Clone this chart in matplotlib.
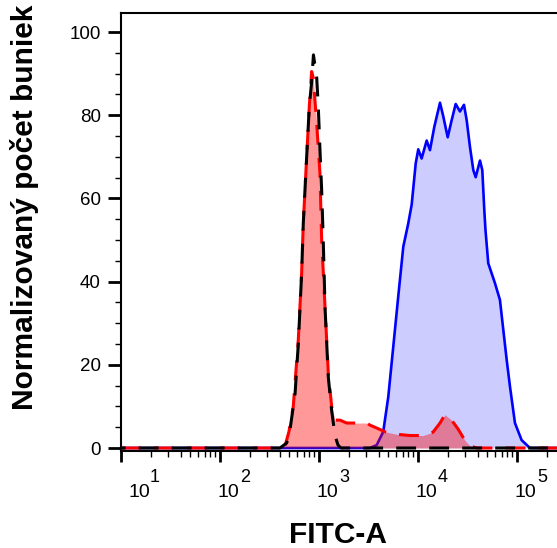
import matplotlib
matplotlib.use("Agg")
import matplotlib.pyplot as plt
import numpy as np

plt.rcParams['font.family'] = ['Liberation Sans', 'DejaVu Sans']

# FITC-A intensity and normalized counts
red_x = [10, 404, 454, 498, 550, 618, 668, 694, 751, 798, 843, 875, 948, 1023,
         1064, 1150, 1242, 1343, 1451, 1629, 1905, 2403, 3033, 3276, 3828, 4645,
         6095, 8304, 11240, 14190, 16690, 18740, 19630, 21890, 25520, 29850,
         33500, 39450, 259500]
red_y = [0, 0, 0.5, 4, 10, 26, 42, 54, 70, 82, 90.5, 89, 78, 66,
         50, 34, 18, 10, 6.7, 6.7, 6, 6, 6, 5.5, 4.8, 3.9,
         3.3, 3.0, 3.0, 3.8, 6, 8, 7.6, 6.7, 4.5, 1.8,
         0.5, 0, 0]

black_x = [10, 404, 472, 509, 573, 618, 668, 694, 751, 798, 843, 879, 948, 984,
           1023, 1064, 1104, 1150, 1242, 1343, 1451, 1556, 1668, 259500]
black_y = [0, 0, 1.2, 4.3, 13, 25, 42, 54, 70, 82, 88, 94.5, 89, 82,
           71.6, 62, 50, 34, 17, 9, 3, 0.7, 0, 0]

blue_x = [10, 3276, 3828, 4457, 5012, 5626, 6318, 7107, 7980, 8635, 9014, 9483,
          10070, 10890, 12240, 13220, 14620, 16690, 18020, 19960, 21890, 24040,
          26560, 29160, 31050, 33500, 36220, 38280, 42300, 44650, 46770, 48080,
          51290, 59970, 67300, 72770, 78720, 84950, 95450, 111400, 135200, 259500]
blue_y = [0, 0, 0.7, 3.9, 12.3, 24.3, 36.4, 48.4, 54, 58.5, 63, 68.4,
          71.8, 69.6, 73.9, 71.6, 77.2, 83, 79.7, 74.7, 78.8, 82.7,
          80.9, 82.5, 78.8, 72.4, 66.8, 65.1, 69.1, 66.8, 57.2, 52.4,
          44.4, 39.6, 35.6, 28.4, 21.2, 14.8, 6, 1.9, 0, 0]

decades = [1, 2, 3, 4, 5]
y_ticks = [0, 20, 40, 60, 80, 100]

fig = plt.figure(figsize=(5.57, 5.48), dpi=100)
ax = fig.add_axes([121 / 557, 1 - 451 / 548, 437.4 / 557, 438 / 548])

ax.fill_between(blue_x, blue_y, color='blue', alpha=0.2, lw=0, zorder=1)
ax.plot(blue_x, blue_y, color='#0000ff', lw=1.9, zorder=2)
ax.fill_between(red_x, red_y, color='red', alpha=0.4, lw=0, zorder=3)
ax.plot(red_x, red_y, color='red', lw=2.2, linestyle=(0, (6.5, 4.3)), zorder=4)
ax.plot(black_x, black_y, color='black', lw=2.2, linestyle=(5, (6.5, 4.3)), zorder=5)

ax.set_xscale('log')
ax.set_xlim(10, 262144)
ax.set_ylim(-0.72, 104.57)

ax.spines['right'].set_visible(False)
for s in ['left', 'top', 'bottom']:
    ax.spines[s].set_linewidth(1.5)

ax.set_yticks(y_ticks)
ax.set_yticks(np.arange(0, 105, 5), minor=True)
ax.tick_params(axis='y', which='major', length=9.4, width=2, labelsize=13.5, pad=5)
ax.tick_params(axis='y', which='minor', length=4.5, width=1)

ax.set_xticks([10.0 ** k for k in decades])
ax.xaxis.set_minor_locator(matplotlib.ticker.LogLocator(base=10, subs=np.arange(2, 10)))
ax.xaxis.set_minor_formatter(matplotlib.ticker.NullFormatter())
ax.set_xticklabels([])
ax.tick_params(axis='x', which='major', length=8, width=2)
ax.tick_params(axis='x', which='minor', length=4.3, width=1)

for k in decades:
    dx = 7 if k == decades[0] else -2
    ax.annotate('10', xy=(10.0 ** k, 0), xycoords=('data', 'axes fraction'),
                xytext=(dx, -46), textcoords='offset pixels', ha='left',
                va='baseline', fontsize=14, annotation_clip=False)
    ax.annotate(str(k), xy=(10.0 ** k, 0), xycoords=('data', 'axes fraction'),
                xytext=(dx + 22, -31), textcoords='offset pixels', ha='left',
                va='baseline', fontsize=13, annotation_clip=False)

fig.text(25 / 557, 1 - 207 / 548, 'Normalizovaný počet buniek', rotation=90,
         ha='center', va='center', fontsize=21.5, fontweight='bold')
fig.text(338 / 557, 1 - 535 / 548, 'FITC-A', ha='center', va='center',
         fontsize=21.5, fontweight='bold')

fig.savefig('out.png', dpi=100)
